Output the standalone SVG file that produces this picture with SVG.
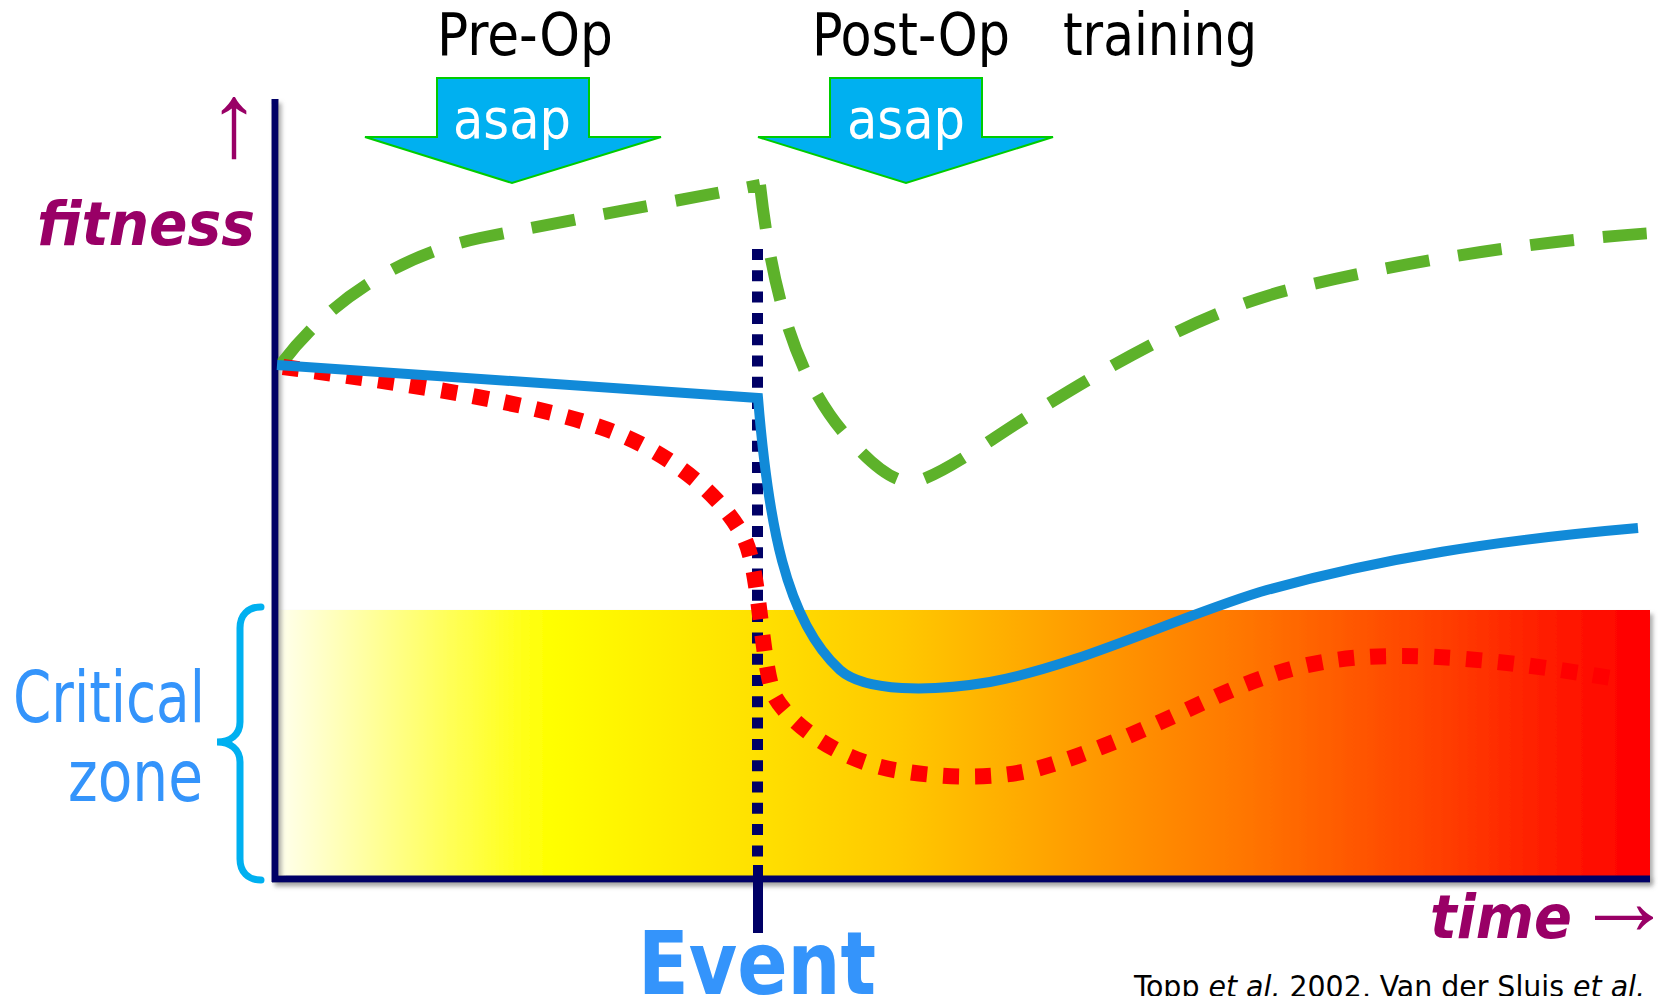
<svg xmlns="http://www.w3.org/2000/svg" width="1659" height="996" viewBox="0 0 1659 996">
<defs>
<linearGradient id="zoneGrad" x1="275" y1="0" x2="1650" y2="0" gradientUnits="userSpaceOnUse">
<stop offset="0" stop-color="#fffff0"/>
<stop offset="0.2" stop-color="#ffff00"/>
<stop offset="0.353" stop-color="#ffe000"/>
<stop offset="0.455" stop-color="#ffc800"/>
<stop offset="0.58" stop-color="#ff9e00"/>
<stop offset="0.70" stop-color="#ff7800"/>
<stop offset="0.855" stop-color="#ff3c00"/>
<stop offset="0.94" stop-color="#ff1600"/>
<stop offset="0.99" stop-color="#ff0000"/>
<stop offset="1" stop-color="#ff0000"/>
</linearGradient>
<filter id="shadow" x="-5%" y="-5%" width="110%" height="115%">
<feDropShadow dx="3" dy="4" stdDeviation="2" flood-color="#777" flood-opacity="0.6"/>
</filter>
</defs>
<style>
.cond{font-family:"DejaVu Sans Condensed","DejaVu Sans",sans-serif;font-stretch:condensed}
.head{font-size:58px;fill:#000}
.asap{font-size:55px;fill:#fff}
.axislbl{font-family:"DejaVu Sans","Liberation Sans",sans-serif;font-weight:bold;font-style:italic;font-size:60px;fill:#990066}
.arrowglyph{font-family:"Liberation Sans","DejaVu Sans",sans-serif;font-weight:normal;font-style:normal;fill:#990066}
.blue{fill:#3494fb}
.arrow{fill:#00b0f0;stroke:#00cc00;stroke-width:2}
.axis{stroke:#000066;stroke-width:7;fill:none}
</style>

<g id="zone" filter="url(#shadow)">
<rect x="275" y="610" width="1375" height="268" fill="url(#zoneGrad)"/>
</g>

<g id="axes" filter="url(#shadow)">
<line class="axis" x1="275" y1="99" x2="275" y2="882"/>
<line class="axis" x1="272" y1="879" x2="1650" y2="879"/>
</g>

<g id="brace">
<path d="M261,607 C248,607 240,615 240,628 L240,722 C240,735 230,742 217,742 C230,742 240,749 240,762 L240,859 C240,872 248,880 261,880" fill="none" stroke="#00b0f0" stroke-width="7" stroke-linecap="round"/>
</g>

<g id="curves">
<path id="green" d="M282,363 C330,300 400,255 480,238 C560,222 680,200 760,185 M760,185 C772,290 795,380 850,440 C875,468 898,486 918,481 C948,471 990,440 1030,415 C1100,372 1200,310 1300,287 C1420,258 1550,240 1652,233" fill="none" stroke="#5db22a" stroke-width="12" stroke-dasharray="44 29"/>
<path id="event-line" d="M757.5,249 L757.5,865" fill="none" stroke="#000066" stroke-width="11" stroke-dasharray="11 10.3"/>
<line x1="758" y1="865" x2="758" y2="933" stroke="#000066" stroke-width="10"/>
<path id="red" d="M283,367 C400,383 520,400 600,427 C660,447 720,490 745,540 C760,575 760,650 773,693 C785,720 840,765 908,772 C955,779 1005,778 1040,768 C1100,751 1160,722 1213,698 C1290,663 1340,656 1400,656 C1480,656 1580,672 1650,685" fill="none" stroke="#ff0000" stroke-width="16" stroke-dasharray="16 16"/>
<path id="blue" d="M277,365 L758,398 C768,520 785,620 840,670 C865,692 930,692 990,682 C1080,665 1170,620 1260,592 C1380,558 1500,540 1638,528" fill="none" stroke="#118ad8" stroke-width="10" stroke-linejoin="miter"/>
</g>

<g id="preop">
<text class="cond head" x="437" y="55" textLength="176" lengthAdjust="spacingAndGlyphs">Pre-Op</text>
<polygon class="arrow" points="437,78 589,78 589,137 661,137 512,183 365,137 437,137"/>
<text class="cond asap" x="453" y="138" textLength="118" lengthAdjust="spacingAndGlyphs">asap</text>
</g>

<g id="postop">
<text class="cond head" x="812" y="55" textLength="198" lengthAdjust="spacingAndGlyphs">Post-Op</text>
<text class="cond head" x="1063" y="55" textLength="194" lengthAdjust="spacingAndGlyphs">training</text>
<polygon class="arrow" points="830,78 982,78 982,137 1053,137 906,183 758,137 830,137"/>
<text class="cond asap" x="847" y="138" textLength="118" lengthAdjust="spacingAndGlyphs">asap</text>
</g>

<g id="fitness-label">
<text class="arrowglyph" x="234" y="156" font-size="105" text-anchor="middle">↑</text>
<text class="axislbl" x="37" y="245" textLength="218" lengthAdjust="spacingAndGlyphs">fitness</text>
</g>

<g id="time-label">
<text class="axislbl" y="938"><tspan x="1430" textLength="142" lengthAdjust="spacingAndGlyphs">time</tspan> <tspan class="arrowglyph" x="1575" y="934" font-size="98">→</tspan></text>
</g>

<g id="critical-zone">
<text class="cond blue" x="13" y="722" font-size="71" textLength="192" lengthAdjust="spacingAndGlyphs">Critical</text>
<text class="cond blue" x="68" y="801" font-size="71" textLength="135" lengthAdjust="spacingAndGlyphs">zone</text>
</g>

<g id="event">
<text class="blue" x="638" y="994" font-family="DejaVu Sans, sans-serif" font-weight="bold" font-size="88" textLength="238" lengthAdjust="spacingAndGlyphs">Event</text>
</g>

<g id="citation">
<text class="cond" x="1134" y="997" font-size="30" fill="#000" textLength="511" lengthAdjust="spacingAndGlyphs">Topp <tspan font-style="italic">et al.</tspan> 2002, Van der Sluis <tspan font-style="italic">et al.</tspan></text>
</g>
</svg>
